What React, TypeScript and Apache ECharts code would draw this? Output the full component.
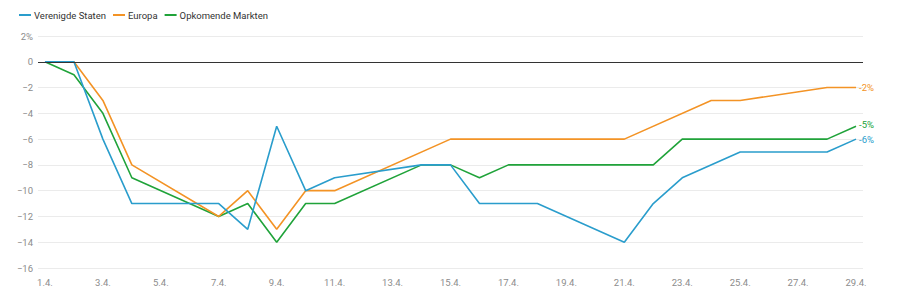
import React, { useEffect, useRef } from "react";
import * as echarts from "echarts";

const days: number[] = [1, 2, 3, 4, 5, 6, 7, 8, 9, 10, 11, 12, 13, 14, 15, 16, 17, 18, 19, 20, 21, 22, 23, 24, 25, 26, 27, 28, 29];
const xTickDays: number[] = [1, 3, 5, 7, 9, 11, 13, 15, 17, 19, 21, 23, 25, 27, 29];
const yTicks: number[] = [2, 0, -2, -4, -6, -8, -10, -12, -14, -16];

const usa: (number | null)[] = [0, 0, -6, -11, null, null, -11, -13, -5, -10, -9, null, null, -8, -8, -11, null, -11, null, null, -14, -11, -9, null, -7, null, null, -7, -6];
const europe: (number | null)[] = [0, 0, -3, -8, null, null, -12, -10, -13, -10, -10, null, null, null, -6, null, null, null, null, null, -6, null, null, -3, -3, null, null, -2, -2];
const emerging: (number | null)[] = [0, -1, -4, -9, null, null, -12, -11, -14, -11, -11, null, null, -8, -8, -9, -8, null, null, null, null, -8, -6, null, null, null, null, -6, -5];

const seriesNames = ["Verenigde Staten", "Europa", "Opkomende Markten"];
const colors = ["#2a9dcc", "#f39325", "#20a33a"];

const toPairs = (vals: (number | null)[]) =>
  days.map((d, i) => [d, vals[i]]).filter((p) => p[1] !== null);

export default function App() {
  const ref = useRef<HTMLDivElement>(null);
  useEffect(() => {
    if (!ref.current) return;
    const chart = echarts.init(ref.current, undefined, { renderer: "svg" });
    const all = [usa, europe, emerging];
    chart.setOption({
      animation: false,
      textStyle: { fontFamily: "Roboto" },
      legend: {
        left: 14,
        top: 10,
        icon: "rect",
        itemWidth: 12,
        itemHeight: 2,
        itemGap: 7,
        padding: [0, 5],
        textStyle: { fontSize: 9.5, color: "#333", fontFamily: "Roboto", padding: [0, 0, 0, -2] },
        data: seriesNames,
      },
      grid: { left: 38, right: 37, top: 36, bottom: 26, containLabel: false },
      xAxis: {
        type: "value",
        min: 0.76,
        max: 29.24,
        axisLine: { show: false },
        axisTick: { show: false },
        splitLine: { show: false },
        axisLabel: {
          customValues: xTickDays,
          formatter: (v: number) => `${v}.4.`,
          color: "#8c8c8c",
          fontSize: 9.5,
          margin: 9,
          fontFamily: "Roboto",
        },
      },
      yAxis: {
        type: "value",
        min: -16,
        max: 2,
        interval: 2,
        axisLine: { show: false },
        axisTick: { show: false },
        splitLine: { show: true, lineStyle: { color: "#ebebeb", width: 1 } },
        axisLabel: {
          customValues: yTicks,
          formatter: (v: number) => (v === 2 ? "2%" : v < 0 ? `\u2212${-v}` : `${v}`),
          color: "#8c8c8c",
          fontSize: 9.5,
          margin: 5,
          fontFamily: "Roboto",
        },
      },
      series: all.map((vals, i) => ({
        name: seriesNames[i],
        type: "line",
        data: toPairs(vals),
        showSymbol: false,
        symbol: "none",
        color: colors[i],
        lineStyle: { width: 1.6, color: colors[i] },
        z: 3 - i,
        endLabel: {
          show: true,
          formatter: (p: any) => `${p.value[1]}%`,
          color: colors[i],
          fontSize: 9.5,
          distance: 3,
          offset: i === 2 ? [0, -2] : [0, 0],
          fontFamily: "Roboto",
        },
        markLine:
          i === 0
            ? {
                silent: true,
                symbol: "none",
                label: { show: false },
                lineStyle: { color: "#333", width: 1, type: "solid" },
                data: [{ yAxis: 0 }],
              }
            : undefined,
      })),
    });
    return () => chart.dispose();
  }, []);
  return <div ref={ref} style={{ width: 900, height: 294, position: "absolute", left: 0, top: 0 }} />;
}
